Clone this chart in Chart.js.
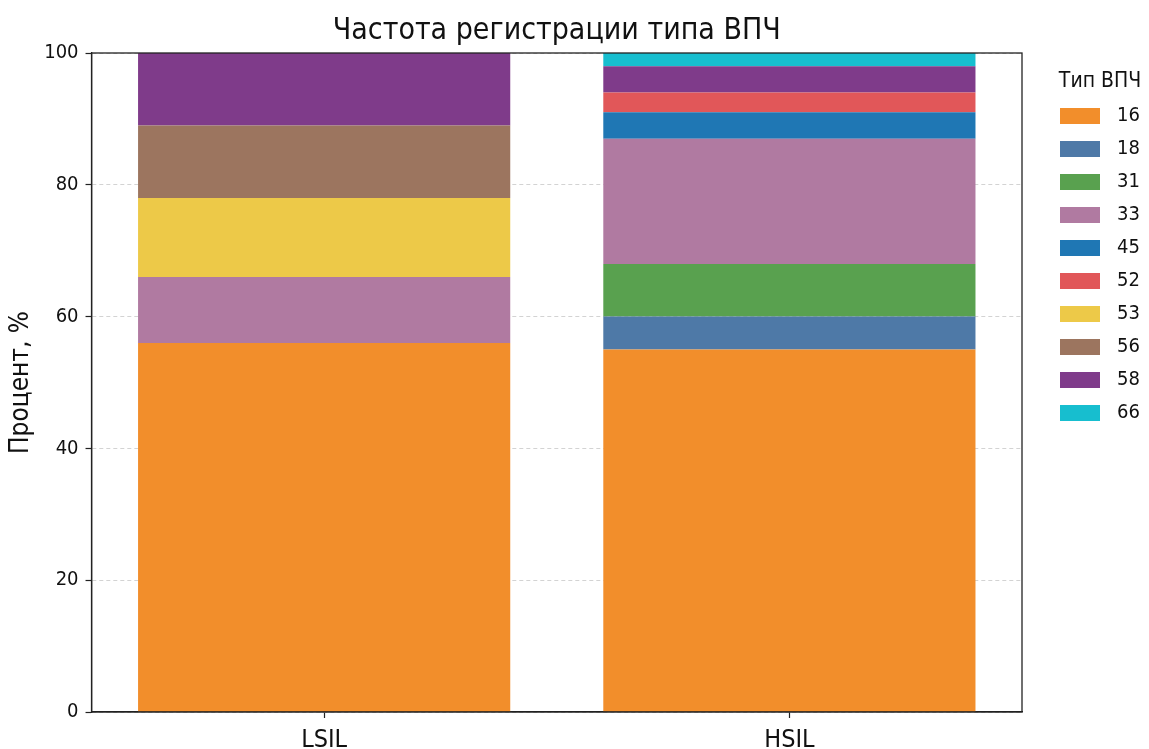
<!DOCTYPE html>
<html><head><meta charset="utf-8">
<script src="https://cdn.jsdelivr.net/npm/chart.js@4"></script>
<style>html,body{margin:0;padding:0;background:#fff}#w{width:1149px;height:749px}</style>
</head><body><div id="w"><canvas id="c"></canvas></div>
<script>
const categories = ["LSIL", "HSIL"];
const types = ["16", "18", "31", "33", "45", "52", "53", "56", "58", "66"];
const v16 = [56, 55];
const v18 = [0, 5];
const v31 = [0, 8];
const v33 = [10, 19];
const v45 = [0, 4];
const v52 = [0, 3];
const v53 = [12, 0];
const v56 = [11, 0];
const v58 = [11, 4];
const v66 = [0, 2];
const yTicks = [0, 20, 40, 60, 80, 100];
const colors = ["#f28e2b", "#4e79a7", "#59a14f", "#b07aa1", "#1f77b4", "#e15759", "#edc948", "#9c755f", "#7f3b8a", "#17becf"];
const series = [v16, v18, v31, v33, v45, v52, v53, v56, v58, v66];
const FAM = "'DejaVu Sans Condensed', 'DejaVu Sans', sans-serif";

const deco = {
  id: 'deco',
  afterDatasetsDraw(chart) {
    const {ctx, chartArea: a} = chart;
    ctx.save();
    ctx.strokeStyle = '#222';
    ctx.lineWidth = 1.3;
    ctx.strokeRect(a.left, a.top, a.right - a.left, a.bottom - a.top);
    ctx.restore();
  },
  afterDraw(chart) {
    const {ctx, chartArea: a} = chart;
    ctx.save();
    ctx.fillStyle = '#111';
    ctx.textBaseline = 'middle';
    ctx.textAlign = 'center';
    ctx.font = "30px " + FAM;
    ctx.fillText('Частота регистрации типа ВПЧ', (a.left + a.right) / 2, 31);
    ctx.font = "21px " + FAM;
    ctx.fillText('Тип ВПЧ', 1100, 82);
    ctx.textAlign = 'left';
    ctx.font = "20px " + FAM;
    chart.data.datasets.forEach((ds, i) => {
      const cy = 116 + i * 33;
      ctx.fillStyle = ds.backgroundColor;
      ctx.fillRect(1060, cy - 8, 40, 16);
      ctx.fillStyle = '#111';
      ctx.fillText(ds.label, 1117, cy);
    });
    ctx.restore();
  }
};

new Chart(document.getElementById('c'), {
  type: 'bar',
  data: {
    labels: categories,
    datasets: types.map((t, i) => ({
      label: t, data: series[i], backgroundColor: colors[i], borderWidth: 0,
      barPercentage: 0.8, categoryPercentage: 1.0
    }))
  },
  options: {
    responsive: true, maintainAspectRatio: false, animation: false,
    layout: {padding: {top: 53, right: 127, left: 1, bottom: -14}},
    plugins: {
      title: {display: false},
      legend: {display: false},
      tooltip: {enabled: false}
    },
    scales: {
      x: {stacked: true,
        grid: {display: true, drawOnChartArea: false, offset: false, tickLength: 6, tickColor: '#222', tickWidth: 1.2},
        border: {color: '#222', width: 1.3},
        ticks: {color: '#111', font: {family: FAM, size: 25, lineHeight: 1.0}, padding: 10}},
      y: {stacked: true, min: 0, max: 100,
        afterBuildTicks(s) { s.ticks = yTicks.map(v => ({value: v})); },
        grid: {color: '#c8c8c8', lineWidth: 0.8, tickLength: 6, tickColor: '#222', tickWidth: 1.2, tickBorderDash: [10, 0]},
        border: {color: '#222', width: 1.3, dash: [4, 3]},
        ticks: {color: '#111', font: {family: FAM, size: 20}, padding: 7},
        title: {display: true, text: 'Процент, %', color: '#111', font: {family: FAM, size: 26}, padding: {top: 5, bottom: 0}}
      }
    }
  },
  plugins: [deco]
});
</script></body></html>
